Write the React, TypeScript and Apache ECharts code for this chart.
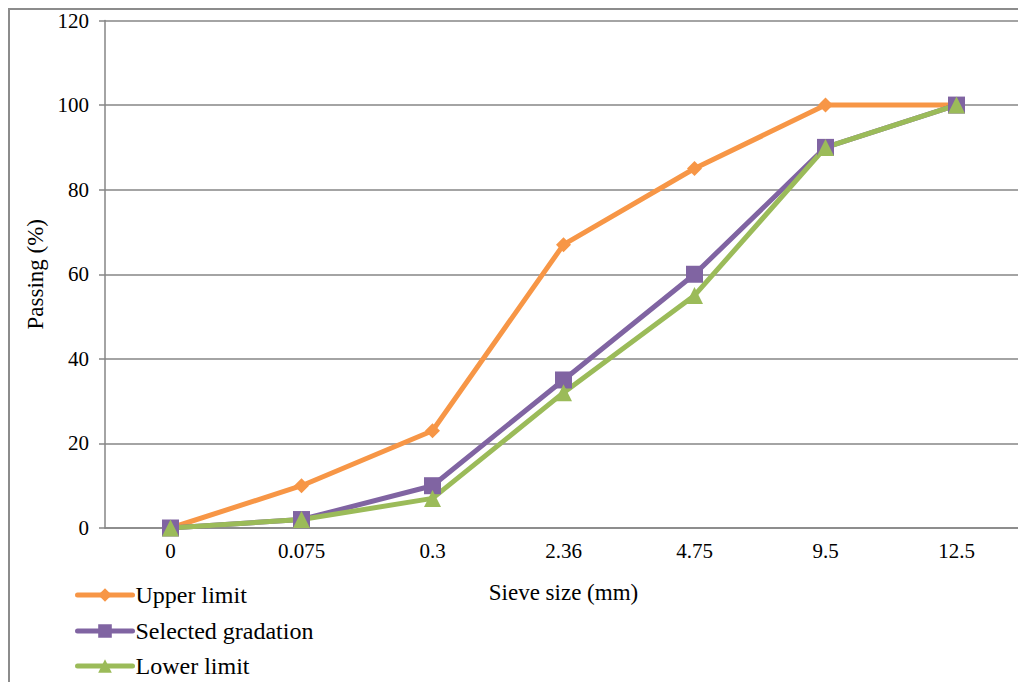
import React, { useEffect, useRef } from "react";
import * as echarts from "echarts";

const categories = ["0", "0.075", "0.3", "2.36", "4.75", "9.5", "12.5"];
const upperLimit = [0, 10, 23, 67, 85, 100, 100];
const selectedGradation = [0, 2, 10, 35, 60, 90, 100];
const lowerLimit = [0, 2, 7, 32, 55, 90, 100];
const seriesNames = ["Upper limit", "Selected gradation", "Lower limit"];

const FONT = "'Liberation Serif', 'Times New Roman', serif";

export default function App() {
  const ref = useRef<HTMLDivElement>(null);
  useEffect(() => {
    if (!ref.current) return;
    const chart = echarts.init(ref.current, undefined, { renderer: "svg" });
    const mk = (name: string, data: number[], color: string, symbol: string, size: number) => ({
      name,
      type: "line",
      data,
      symbol,
      symbolSize: size,
      showAllSymbol: true,
      itemStyle: { color },
      lineStyle: { color, width: 5, cap: "round" },
    });
    const legendTops = [573, 609, 644];
    const legends = seriesNames.map((n, i) => ({
      orient: "vertical",
      left: 65,
      top: legendTops[i],
      padding: 0,
      itemWidth: 55,
      itemHeight: 17,
      lineStyle: { width: 5, cap: "round" },
      textStyle: { fontFamily: FONT, fontSize: 24, color: "#000", padding: [0, 0, 0, -2] },
      data: [n],
    }));
    chart.setOption({
      animation: false,
      textStyle: { fontFamily: FONT },
      grid: { left: 95, top: 10, width: 917, height: 508, containLabel: false },
      legend: legends,
      xAxis: {
        type: "category",
        data: categories,
        boundaryGap: true,
        name: "Sieve size (mm)",
        nameLocation: "middle",
        nameGap: 53,
        nameTextStyle: { fontFamily: FONT, fontSize: 23, color: "#000", verticalAlign: "top" },
        axisLine: { lineStyle: { color: "#868686", width: 1.5 } },
        axisTick: { show: false },
        axisLabel: { fontFamily: FONT, fontSize: 21, color: "#000", margin: 12 },
      },
      yAxis: {
        type: "value",
        min: 0,
        max: 120,
        interval: 20,
        name: "Passing (%)",
        nameLocation: "middle",
        nameGap: 58,
        nameTextStyle: { fontFamily: FONT, fontSize: 23, color: "#000" },
        axisLine: { show: true, lineStyle: { color: "#868686", width: 1.5 } },
        axisTick: { show: true, length: 6, lineStyle: { color: "#868686", width: 1.5 } },
        axisLabel: { fontFamily: FONT, fontSize: 21, color: "#000", margin: 16 },
        splitLine: { lineStyle: { color: "#868686", width: 1.5 } },
      },
      series: [
        mk("Upper limit", upperLimit, "#F79646", "diamond", 15),
        mk("Selected gradation", selectedGradation, "#8064A2", "rect", 17),
        mk("Lower limit", lowerLimit, "#9BBB59", "triangle", 17),
      ],
    });
    return () => chart.dispose();
  }, []);
  return (
    <div
      style={{
        width: 1018,
        height: 674,
        boxSizing: "border-box",
        borderLeft: "2px solid #8c8c8c",
        borderTop: "2px solid #8c8c8c",
        overflow: "hidden",
      }}
    >
      <div ref={ref} style={{ width: 1016, height: 672 }} />
    </div>
  );
}
